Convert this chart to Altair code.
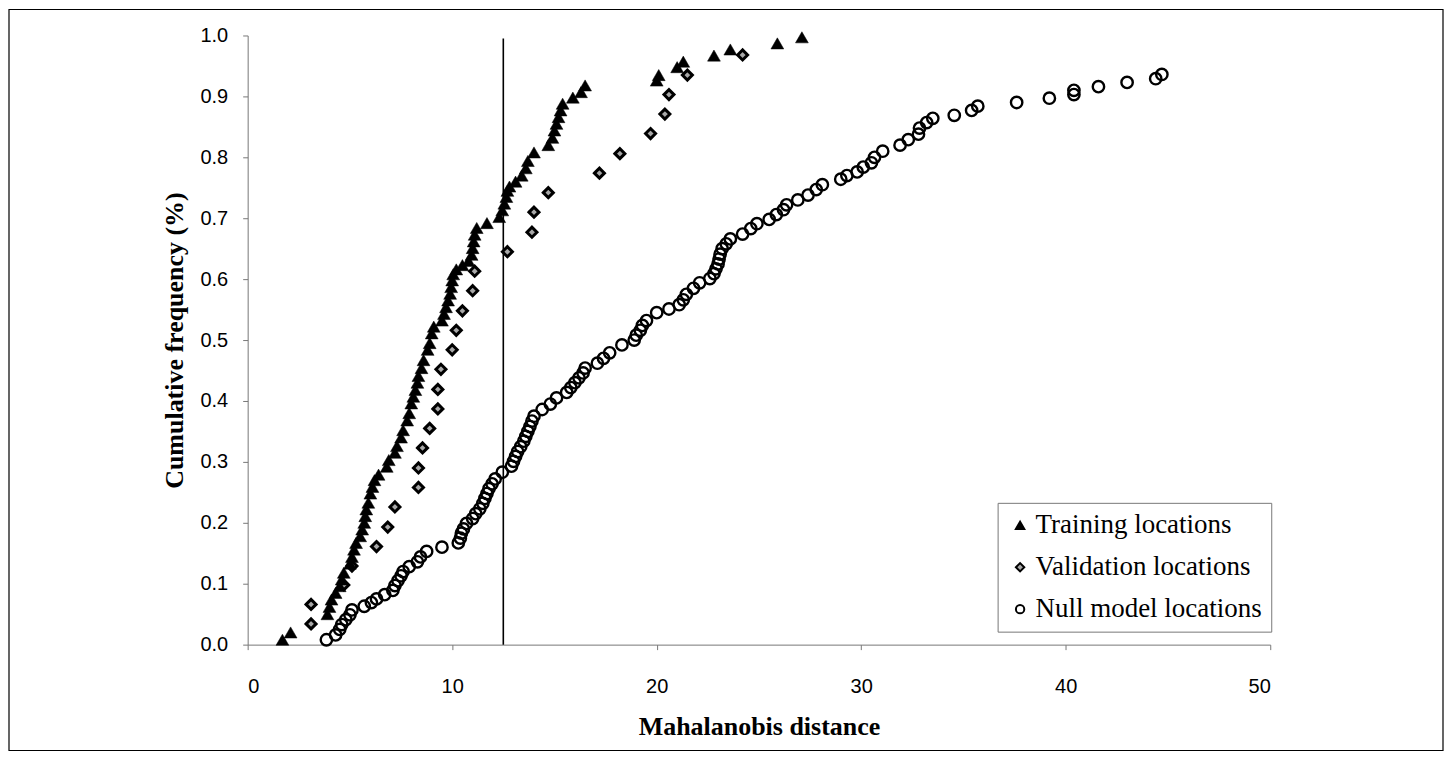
import altair as alt
import pandas as pd

# ---- data ----
series_names = ["Training locations", "Validation locations", "Null model locations"]

train_x = [1.7, 2.1, 3.9, 4.0, 4.1, 4.3, 4.5, 4.6, 4.7, 5.0, 5.1, 5.2, 5.3, 5.5, 5.6, 5.7, 5.75,
           5.8, 5.9, 6.0, 6.1, 6.2, 6.4, 6.8, 6.9, 7.2, 7.3, 7.5, 7.6, 7.8, 7.9, 8.0, 8.1, 8.2,
           8.3, 8.35, 8.5, 8.6, 8.8, 8.9, 9.0, 9.1, 9.5, 9.6, 9.7, 9.8, 9.9, 9.95, 10.0, 10.05,
           10.2, 10.5, 10.8, 10.95, 11.0, 11.05, 11.1, 11.2, 11.7, 12.3, 12.45, 12.55, 12.65,
           12.7, 12.8, 13.1, 13.4, 13.6, 13.7, 14.0, 14.7, 14.9, 15.0, 15.1, 15.2, 15.3, 15.4,
           15.9, 16.3, 16.5, 20.0, 20.1, 21.0, 21.3, 22.8, 23.6, 25.9, 27.1]
train_y = [0.008, 0.020, 0.050, 0.062, 0.074, 0.085, 0.096, 0.107, 0.118, 0.133, 0.144, 0.156,
           0.167, 0.178, 0.189, 0.200, 0.211, 0.222, 0.233, 0.248, 0.259, 0.270, 0.279, 0.292,
           0.303, 0.315, 0.326, 0.340, 0.352, 0.368, 0.380, 0.396, 0.407, 0.418, 0.430, 0.441,
           0.454, 0.467, 0.484, 0.495, 0.511, 0.522, 0.532, 0.543, 0.554, 0.565, 0.576, 0.587,
           0.598, 0.608, 0.616, 0.623, 0.630, 0.640, 0.651, 0.662, 0.673, 0.684, 0.692, 0.702,
           0.713, 0.724, 0.735, 0.745, 0.752, 0.760, 0.770, 0.782, 0.794, 0.808, 0.820, 0.832,
           0.844, 0.855, 0.866, 0.877, 0.888, 0.898, 0.907, 0.918, 0.926, 0.935, 0.948, 0.957,
           0.967, 0.977, 0.987, 0.997]

valid_x = [3.1, 3.1, 4.7, 5.1, 6.3, 6.85, 7.2, 8.35, 8.35, 8.55, 8.9, 9.3, 9.3, 9.45, 10.0,
           10.2, 10.5, 11.0, 11.1, 12.7, 13.9, 14.0, 14.7, 17.2, 18.2, 19.7, 20.4, 20.6, 21.5,
           24.2]
valid_y = [0.034, 0.066, 0.098, 0.129, 0.161, 0.193, 0.226, 0.258, 0.290, 0.323, 0.355, 0.387,
           0.419, 0.452, 0.484, 0.516, 0.548, 0.581, 0.613, 0.645, 0.677, 0.710, 0.742, 0.774,
           0.806, 0.839, 0.871, 0.903, 0.935, 0.968]

null_x = [3.85, 4.3, 4.5, 4.6, 4.8, 5.0, 5.1, 5.7, 6.05, 6.3, 6.7, 7.1, 7.2, 7.35, 7.5, 7.6, 7.9,
          8.3, 8.45, 8.75, 9.5, 10.3, 10.4, 10.45, 10.55, 10.7, 11.0, 11.15, 11.35, 11.5, 11.6,
          11.7, 11.8, 11.95, 12.1, 12.45, 12.9, 13.0, 13.1, 13.2, 13.35, 13.5, 13.6, 13.7, 13.8,
          13.9, 14.0, 14.4, 14.8, 15.1, 15.6, 15.8, 16.0, 16.2, 16.4, 16.5, 17.1, 17.4, 17.7,
          18.3, 18.9, 19.0, 19.2, 19.3, 19.5, 20.0, 20.6, 21.1, 21.3, 21.45, 21.8, 22.1, 22.6,
          22.8, 22.9, 23.0, 23.05, 23.1, 23.2, 23.4, 23.6, 24.2, 24.6, 24.9, 25.5, 25.85, 26.2,
          26.35, 26.9, 27.4, 27.8, 28.1, 29.0, 29.3, 29.8, 30.1, 30.5, 30.65, 31.05, 31.9, 32.3,
          32.8, 32.85, 33.2, 33.5, 34.55, 35.4, 35.7, 37.6, 39.2, 40.4, 40.4, 41.6, 43.0, 44.4,
          44.7]
null_y = [0.008, 0.016, 0.025, 0.033, 0.041, 0.049, 0.057, 0.063, 0.069, 0.075, 0.082, 0.089,
          0.097, 0.105, 0.113, 0.120, 0.128, 0.136, 0.144, 0.153, 0.160, 0.167, 0.175, 0.183,
          0.190, 0.199, 0.207, 0.215, 0.223, 0.232, 0.240, 0.248, 0.256, 0.264, 0.272, 0.283,
          0.293, 0.301, 0.309, 0.317, 0.325, 0.334, 0.342, 0.350, 0.358, 0.367, 0.375, 0.386,
          0.395, 0.405, 0.414, 0.422, 0.430, 0.438, 0.446, 0.454, 0.462, 0.470, 0.479, 0.492,
          0.500, 0.508, 0.516, 0.524, 0.532, 0.545, 0.551, 0.558, 0.566, 0.575, 0.585, 0.594,
          0.601, 0.609, 0.617, 0.625, 0.633, 0.641, 0.650, 0.658, 0.666, 0.674, 0.683, 0.691,
          0.698, 0.706, 0.714, 0.722, 0.730, 0.738, 0.747, 0.755, 0.764, 0.770, 0.776, 0.784,
          0.791, 0.800, 0.810, 0.820, 0.829, 0.838, 0.848, 0.857, 0.864, 0.869, 0.877, 0.884,
          0.890, 0.897, 0.903, 0.910, 0.916, 0.923, 0.929, 0.936]

threshold_x = [12.5]
threshold_top = [0.995]

x_ticks = [0, 10, 20, 30, 40, 50]
y_ticks = [0.0, 0.1, 0.2, 0.3, 0.4, 0.5, 0.6, 0.7, 0.8, 0.9, 1.0]

# ---- tables ----
def make_df(name, xs, ys):
    return pd.DataFrame({"series": [name] * len(xs), "dist": xs, "freq": ys})

df_train = make_df(series_names[0], train_x, train_y)
df_valid = make_df(series_names[1], valid_x, valid_y)
df_null = make_df(series_names[2], null_x, null_y)
df_rule = pd.DataFrame({"x": threshold_x, "y": [0.0], "y2": threshold_top})

x_scale = alt.Scale(domain=[0, 50], nice=False, zero=False)
y_scale = alt.Scale(domain=[0, 1], nice=False)

x_enc = alt.X("dist:Q", scale=x_scale,
              axis=alt.Axis(values=x_ticks, format="d", title="Mahalanobis distance",
                            grid=False, domainColor="#777777", tickColor="#777777",
                            tickSize=5, labelPadding=27, labelFont="Liberation Sans",
                            labelFontSize=20, labelColor="black",
                            titleFont="Liberation Serif", titleFontSize=26,
                            titleFontWeight="bold", titleColor="black", titlePadding=17))
y_enc = alt.Y("freq:Q", scale=y_scale,
              axis=alt.Axis(values=y_ticks, format=".1f", title="Cumulative frequency (%)",
                            grid=False, domainColor="#777777", tickColor="#777777",
                            tickSize=5, labelPadding=15, labelFont="Liberation Sans",
                            labelFontSize=20, labelColor="black",
                            titleFont="Liberation Serif", titleFontSize=26,
                            titleFontWeight="bold", titleColor="black", titlePadding=12))

def legend():
    return alt.Legend(title=None, orient="none", legendX=751, legendY=468)

shape_enc = alt.Shape("series:N",
                      scale=alt.Scale(domain=series_names,
                                      range=["triangle-up", "diamond", "circle"]),
                      legend=legend())
fill_enc = alt.Fill("series:N",
                    scale=alt.Scale(domain=series_names,
                                    range=["black", "#a8a8a8", "transparent"]),
                    legend=legend())
stroke_enc = alt.Stroke("series:N",
                        scale=alt.Scale(domain=series_names,
                                        range=["black", "black", "black"]),
                        legend=legend())

def point_layer(data, size, sw):
    return alt.Chart(data).mark_point(
        filled=True, opacity=1, size=size, strokeWidth=sw
    ).encode(x=x_enc, y=y_enc, shape=shape_enc, fill=fill_enc, stroke=stroke_enc)

null_layer = point_layer(df_null, 130, 2.4)
valid_layer = point_layer(df_valid, 100, 3)
train_layer = point_layer(df_train, 165, 0.5)

rule = alt.Chart(df_rule).mark_rule(color="black", strokeWidth=1.6).encode(
    x=alt.X("x:Q", scale=x_scale),
    y=alt.Y("y:Q", scale=y_scale),
    y2="y2:Q",
)

frame = alt.Chart(df_rule).mark_rect(filled=False, stroke="black", strokeWidth=1.2).encode(
    x=alt.value(-239), x2=alt.value(1197), y=alt.value(-26), y2=alt.value(716)
)

chart = alt.layer(frame, rule, null_layer, valid_layer, train_layer).properties(
    width=1024, height=610, padding=0, background="white"
).configure_view(stroke=None).configure_legend(
    strokeColor="#777777", fillColor="white", padding=9,
    labelFont="Liberation Serif", labelFontSize=27, labelColor="black",
    labelOffset=2, rowPadding=14, symbolSize=70, symbolStrokeWidth=2,
    labelLimit=400,
)

chart.save("out.html", embed_options={"renderer": "svg", "actions": False})
